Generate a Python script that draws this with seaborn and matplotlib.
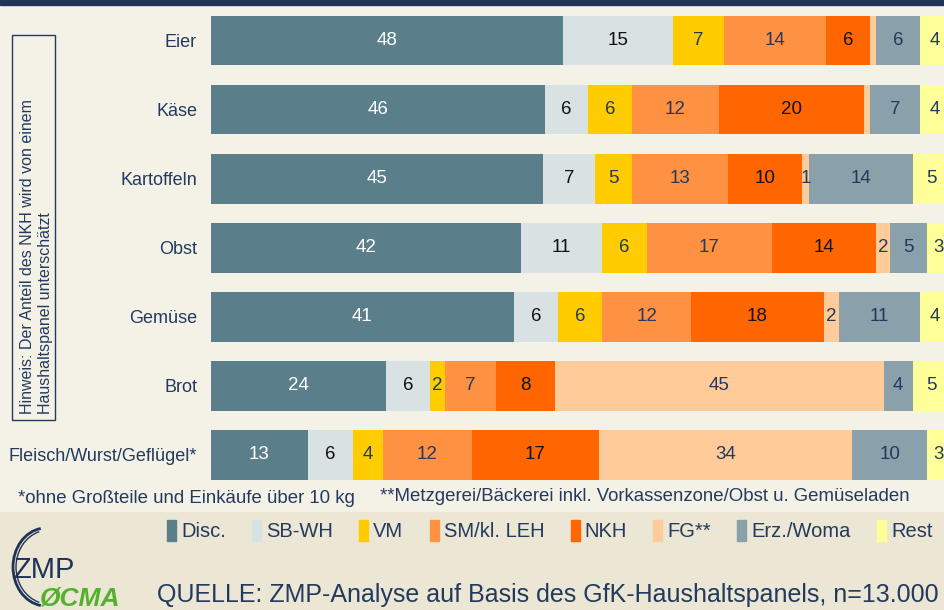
import matplotlib
matplotlib.use("Agg")
import matplotlib.pyplot as plt
import matplotlib.patches as mpatches
import seaborn as sns
import pandas as pd

# data (printed shares in %, unlabelled slivers estimated)
categories = ["Eier", "Käse", "Kartoffeln", "Obst", "Gemüse", "Brot", "Fleisch/Wurst/Geflügel*"]
channels = ["Disc.", "SB-WH", "VM", "SM/kl. LEH", "NKH", "FG**", "Erz./Woma", "Rest"]

disc = [48, 46, 45, 42, 41, 24, 13]
sb_wh = [15, 6, 7, 11, 6, 6, 6]
vm = [7, 6, 5, 6, 6, 2, 4]
sm_leh = [14, 12, 13, 17, 12, 7, 12]
nkh = [6, 20, 10, 14, 18, 8, 17]
fg = [0.8, 0.8, 1, 2, 2, 45, 34]
erz_woma = [6, 7, 14, 5, 11, 4, 10]
rest = [4, 4, 5, 3, 4, 5, 3]

colors = ["#5A7F8B", "#D9E2E2", "#FFCC00", "#FF9142", "#FF6600", "#FFCC99", "#8AA0AA", "#FFFF99"]
label_colors = ["white", "#111111", "#233A5E", "#233A5E", "#111111", "#233A5E", "#233A5E", "#233A5E"]
navy = "#233A5E"
cream = "#F4F1E7"
beige = "#ECE7D4"

df = pd.DataFrame({"Kategorie": categories, "Disc.": disc, "SB-WH": sb_wh, "VM": vm,
                   "SM/kl. LEH": sm_leh, "NKH": nkh, "FG**": fg,
                   "Erz./Woma": erz_woma, "Rest": rest})
# 100% stacked: rounded values do not add up exactly, so scale each row to 100
share = df[channels].div(df[channels].sum(axis=1), axis=0) * 100
cum = share.cumsum(axis=1)

sns.set_theme(style="white")
plt.rcParams["font.family"] = ["Liberation Sans", "DejaVu Sans"]

W, H = 945, 610
fig = plt.figure(figsize=(W / 100, H / 100), dpi=100, facecolor=cream)


def fx(px):
    return px / W


def fy(py):
    return 1 - py / H


# lower beige band and top navy strip
fig.patches.append(mpatches.Rectangle((0, 0), 1, fy(512), transform=fig.transFigure,
                                      color=beige, zorder=0))
fig.patches.append(mpatches.Rectangle((0, fy(5)), 1, 1, transform=fig.transFigure,
                                      color="#1F3358", zorder=0))

ax = fig.add_axes([fx(211), fy(489.5), 1 - fx(211), fy(6) - fy(489.5)])
ax.set_facecolor("none")

# stacked bars: draw cumulative totals from the last segment to the first
for i in reversed(range(len(channels))):
    sns.barplot(x=cum[channels[i]], y=df["Kategorie"], color=colors[i], orient="h",
                width=0.72, saturation=1, linewidth=0, ax=ax)

for i, ch in enumerate(channels):
    for j in range(len(categories)):
        v = df.loc[j, ch]
        if v < 1:
            continue
        xc = cum.loc[j, ch] - share.loc[j, ch] / 2
        ax.text(xc, j, f"{v:g}", ha="center", va="center", fontsize=13.5,
                color=label_colors[i])

ax.set_xlim(0, 99.4)
ax.set_ylim(6.5, -0.5)
ax.set_xlabel("")
ax.set_ylabel("")
ax.set_xticks([])
ax.tick_params(axis="y", length=0, pad=10, labelsize=13, labelcolor=navy)
for s in ax.spines.values():
    s.set_visible(False)

# hint box
fig.patches.append(mpatches.Rectangle((fx(12), fy(420)), fx(43), fy(35) - fy(420),
                                      transform=fig.transFigure, fill=False,
                                      edgecolor=navy, linewidth=1))
fig.text(fx(36.5), fy(414), "Hinweis: Der Anteil des NKH wird von einem\nHaushaltspanel unterschätzt",
         rotation=90, ha="center", va="bottom", multialignment="left", fontsize=11.5,
         color=navy, linespacing=1.2)

# footnotes
fig.text(fx(18), fy(503), "*ohne Großteile und Einkäufe über 10 kg", fontsize=13.4,
         color=navy, va="baseline")
fig.text(fx(380), fy(501), "**Metzgerei/Bäckerei inkl. Vorkassenzone/Obst u. Gemüseladen",
         fontsize=13.4, color=navy, va="baseline")

# legend
handles = [mpatches.Patch(color=c, label=l) for c, l in zip(colors, channels)]
fig.legend(handles=handles, loc="upper left", bbox_to_anchor=(fx(167), fy(520)), ncol=8,
           frameon=False, fontsize=14.5, labelcolor=navy, handlelength=0.45,
           handleheight=1.25, handletextpad=0.25, columnspacing=1.3,
           borderpad=0, borderaxespad=0)

# source line
fig.text(fx(157), fy(602), "QUELLE: ZMP-Analyse auf Basis des GfK-Haushaltspanels, n=13.000",
         fontsize=18, color=navy, va="baseline")

# logo
fig.patches.append(mpatches.Arc((fx(46), fy(567)), fx(66), fy(528) - fy(606), theta1=95, theta2=265,
                                transform=fig.transFigure, color="#1F3358", linewidth=2))
fig.patches.append(mpatches.Arc((fx(49), fy(567)), fx(66), fy(530) - fy(604), theta1=100, theta2=260,
                                transform=fig.transFigure, color="#1F3358", linewidth=1))
fig.text(fx(13), fy(578), "ZMP", fontsize=21, color="#1F3358", va="baseline")
fig.text(fx(40), fy(606), "ØCMA", fontsize=19, color="#55B030", fontweight="bold",
         fontstyle="italic", va="baseline")

fig.savefig("out.png", dpi=100, facecolor=cream)
